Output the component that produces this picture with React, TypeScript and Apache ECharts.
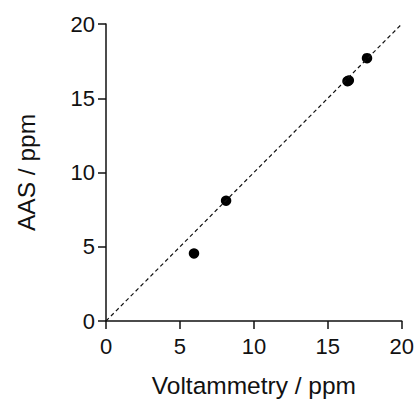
import React, { useEffect, useRef } from "react";
import * as echarts from "echarts";

const voltammetry = [5.95, 8.12, 16.33, 16.42, 17.65];
const aas = [4.55, 8.1, 16.15, 16.2, 17.7];
const lineX = [0, 20];
const lineY = [0, 20];
const xTitle = "Voltammetry / ppm";
const yTitle = "AAS / ppm";

export default function App() {
  const ref = useRef<HTMLDivElement>(null);
  useEffect(() => {
    if (!ref.current) return;
    const chart = echarts.init(ref.current, null, { renderer: "svg" });
    const font = "'Liberation Sans', Arial, sans-serif";
    const axisCommon = {
      type: "value",
      min: 0,
      max: 20,
      interval: 5,
      nameLocation: "middle",
      nameTextStyle: { fontFamily: font, fontSize: 24.5, color: "#111" },
      axisLine: { show: true, onZero: false, lineStyle: { color: "#111", width: 1.5 } },
      axisTick: { show: true, inside: false, length: 8, lineStyle: { color: "#111", width: 1.5 } },
      axisLabel: { fontFamily: font, fontSize: 22, color: "#111" },
      splitLine: { show: false },
    };
    chart.setOption({
      animation: false,
      backgroundColor: "#fff",
      grid: { left: 106, right: 14, top: 24, bottom: 78, containLabel: false },
      xAxis: {
        ...axisCommon,
        name: xTitle,
        nameGap: 52,
        axisLabel: { ...axisCommon.axisLabel, margin: 14 },
      },
      yAxis: {
        ...axisCommon,
        name: yTitle,
        nameGap: 67,
        axisLabel: { ...axisCommon.axisLabel, margin: 11 },
      },
      series: [
        {
          type: "line",
          data: lineX.map((x, i) => [x, lineY[i]]),
          symbol: "none",
          lineStyle: { color: "#111", width: 1.2, type: [4, 3] },
          silent: true,
        },
        {
          type: "scatter",
          data: voltammetry.map((x, i) => [x, aas[i]]),
          symbol: "circle",
          symbolSize: 10.5,
          itemStyle: { color: "#000", opacity: 1 },
        },
      ],
    });
    return () => chart.dispose();
  }, []);
  return <div ref={ref} style={{ width: 417, height: 403, position: "absolute", left: 0, top: 0 }} />;
}
